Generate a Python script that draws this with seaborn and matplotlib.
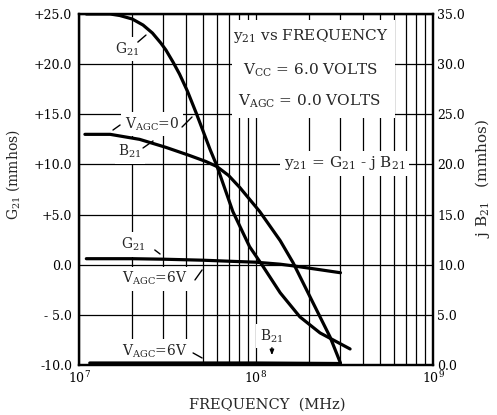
import numpy as np
import pandas as pd
import matplotlib
matplotlib.use("Agg")
import matplotlib.pyplot as plt
from matplotlib.patches import Rectangle
import seaborn as sns

# ---- data ----
g21_0_freq = [1.1e7, 1.5e7, 1.7e7, 2.0e7, 2.3e7, 2.6e7, 2.9e7, 3.1e7, 3.4e7, 3.7e7, 4.1e7,
              4.6e7, 5.5e7, 6.0e7, 7.4e7, 9.2e7, 1.08e8, 1.37e8, 1.77e8, 2.3e8, 3.4e8]
g21_0_val = [25.0, 25.0, 24.85, 24.5, 23.9, 23.1, 22.1, 21.4, 20.2, 19.0, 17.3,
             15.1, 11.5, 9.9, 5.3, 1.8, 0.0, -2.8, -5.2, -6.8, -8.4]

b21_0_freq = [1.08e7, 1.5e7, 2.2e7, 3.1e7, 4.2e7, 5.2e7, 6.0e7, 7.0e7, 8.1e7, 1.05e8, 1.37e8,
              1.62e8, 2.1e8, 2.62e8, 3.0e8]
b21_0_val = [23.0, 23.0, 22.5, 21.7, 20.9, 20.3, 19.8, 18.9, 17.7, 15.3, 12.4, 10.2, 6.2, 2.8, 0.2]

g21_6_freq = [1.1e7, 2e7, 3e7, 5e7, 7e7, 1e8, 1.37e8, 1.6e8, 2.2e8, 3e8]
g21_6_val = [0.6, 0.6, 0.55, 0.45, 0.35, 0.25, 0.05, -0.1, -0.45, -0.8]

b21_6_freq = [1.15e7, 3e7, 1e8, 3e8]
b21_6_val = [0.2, 0.2, 0.2, 0.15]

left_ticks = [-10, -5, 0, 5, 10, 15, 20, 25]
left_labels = ["-10.0", "- 5.0", "0.0", "+5.0", "+10.0", "+15.0", "+20.0", "+25.0"]
right_ticks = [0, 5, 10, 15, 20, 25, 30, 35]
right_labels = ["0.0", "5.0", "10.0", "15.0", "20.0", "25.0", "30.0", "35.0"]
x_ticks = [1e7, 1e8, 1e9]
x_labels = ["$10^7$", "$10^8$", "$10^9$"]

# ---- style ----
sns.set_style("white")
plt.rcParams["font.family"] = ["DejaVu Serif"]
plt.rcParams["mathtext.fontset"] = "dejavuserif"
plt.rcParams["mathtext.default"] = "regular"

W, H = 497, 415
fig = plt.figure(figsize=(W / 100, H / 100), dpi=100)
L, R, T, B = 79, 433, 14, 365
ax = fig.add_axes([L / W, 1 - B / H, (R - L) / W, (B - T) / H])
ax.set_xscale("log")
ax.set_xlim(1e7, 1e9)
ax.set_ylim(-10, 25)
ax2 = ax.twinx()
ax2.set_ylim(0, 35)
ax2.set_xlim(1e7, 1e9)

# grid
ax.set_axisbelow(True)
ax.grid(which="both", axis="x", color="black", lw=0.9)
ax.grid(which="major", axis="y", color="black", lw=0.9)

lw = 2.3
df = lambda f, v: pd.DataFrame({"f": f, "v": v})
sns.lineplot(data=df(g21_0_freq, g21_0_val), x="f", y="v", ax=ax, color="black", lw=lw, estimator=None, zorder=4)
sns.lineplot(data=df(g21_6_freq, g21_6_val), x="f", y="v", ax=ax, color="black", lw=lw, estimator=None, zorder=4)
sns.lineplot(data=df(b21_0_freq, b21_0_val), x="f", y="v", ax=ax2, color="black", lw=lw, estimator=None, zorder=4)
sns.lineplot(data=df(b21_6_freq, b21_6_val), x="f", y="v", ax=ax2, color="black", lw=lw, estimator=None, zorder=4)
ax2.set_xscale("log")
ax2.set_xlim(1e7, 1e9)

# ticks
ax.set_xticks(x_ticks, x_labels)
ax.set_yticks(left_ticks, left_labels)
ax2.set_yticks(right_ticks, right_labels)
ax.xaxis.set_minor_formatter(matplotlib.ticker.NullFormatter())
ax.tick_params(axis="both", which="both", length=0, labelsize=9, colors="black")
ax.tick_params(axis="y", pad=5)
ax.tick_params(axis="x", pad=4)
ax2.tick_params(axis="y", length=0, labelsize=9, pad=3, colors="black")

for a in (ax, ax2):
    for s in a.spines.values():
        s.set_linewidth(1.6)
        s.set_color("black")

ax.set_xlabel("FREQUENCY  (MHz)", fontsize=10.5, va="top")
ax.xaxis.set_label_coords((267 - L) / (R - L), -(398 - B) / (B - T))
ax.set_ylabel("G$_{21}$ (mmhos)", fontsize=10)
ax.yaxis.set_label_coords(-(L - 22) / (R - L), (B - 175) / (B - T))
ax2.set_ylabel("j B$_{21}$   (mmhos)", fontsize=11, rotation=90)
ax2.yaxis.set_label_coords((473 - L) / (R - L), (B - 178) / (B - T))

# white block behind the title text
ax.add_patch(Rectangle(((232 - L) / (R - L), (B - 118) / (B - T)),
                       (395 - 232) / (R - L), (118 - 20) / (B - T),
                       transform=ax.transAxes, facecolor="white", edgecolor="none", zorder=1.5))

tk = dict(fontsize=11, ha="center", va="center", zorder=2)
ax.text(2.05e8, 22.8, "y$_{21}$ vs FREQUENCY", **tk)
ax.text(2.02e8, 19.4, "V$_{CC}$ = 6.0 VOLTS", **tk)
ax.text(2.0e8, 16.3, "V$_{AGC}$ = 0.0 VOLTS", **tk)
wb = dict(boxstyle="square,pad=0.25", facecolor="white", edgecolor="none")
ax.text(3.18e8, 10.1, "y$_{21}$ = G$_{21}$ - j B$_{21}$", bbox=wb, **tk)

lab = dict(fontsize=10, ha="center", va="center", zorder=2, bbox=wb)
ax.text(1.87e7, 21.5, "G$_{21}$", **lab)
ax.text(2.58e7, 14.0, "V$_{AGC}$=0", **lab)
ax.text(1.94e7, 11.3, "B$_{21}$", **lab)
ax.text(2.02e7, 2.0, "G$_{21}$", **lab)
ax.text(2.68e7, -1.4, "V$_{AGC}$=6V", **lab)
ax.text(2.68e7, -8.6, "V$_{AGC}$=6V", **lab)
ax.text(1.22e8, -7.1, "B$_{21}$", **lab)

ll = dict(color="black", lw=1.0, zorder=3)
ax.plot([2.15e7, 2.39e7], [22.2, 22.9], **ll)
ax.plot([1.556e7, 1.706e7], [13.43, 13.93], **ll)
ax.plot([3.82e7, 4.35e7], [13.73, 14.73], **ll)
ax.plot([2.30e7, 2.62e7], [11.64, 12.34], **ll)
ax.plot([2.68e7, 2.87e7], [1.47, 1.07], **ll)
ax.plot([4.52e7, 4.96e7], [-1.52, -0.52], **ll)
ax.plot([4.41e7, 4.96e7], [-8.8, -9.3], **ll)
ax.annotate("", xy=(1.23e8, -9.3), xytext=(1.23e8, -8.0),
            arrowprops=dict(arrowstyle="-|>,head_length=0.3,head_width=0.12", color="black", lw=1.0),
            zorder=3)

fig.savefig("out.png", dpi=100)
